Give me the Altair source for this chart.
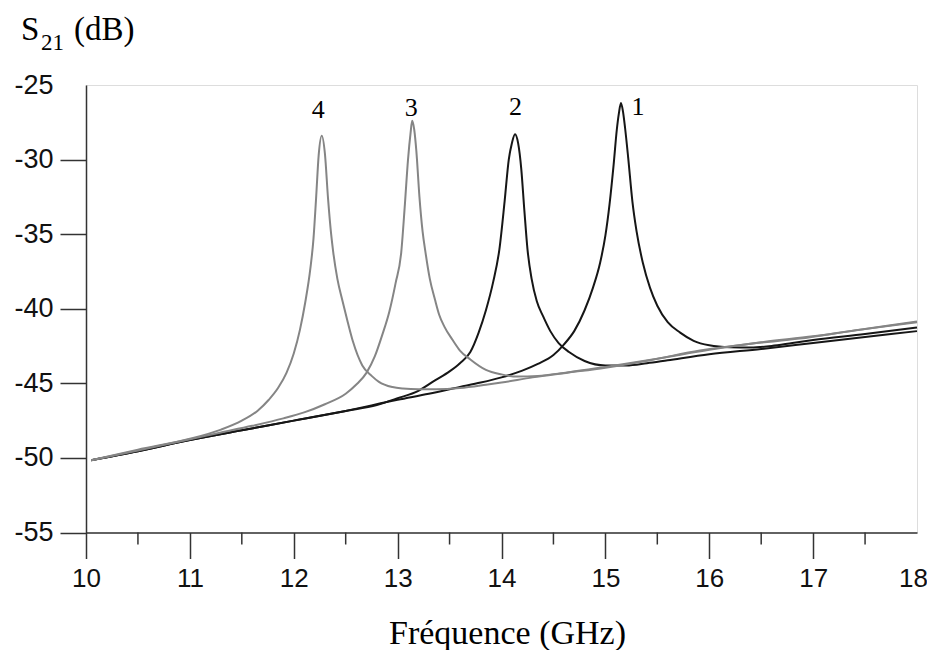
import altair as alt
import pandas as pd

# ---- data ----
freq_1 = [10.05, 10.5, 11.0, 11.5, 12.0, 12.5, 13.0, 13.3, 13.6, 13.8, 14.0, 14.2, 14.35, 14.5, 14.6, 14.7, 14.8,
          14.88, 14.95, 15.0, 15.04, 15.08, 15.11, 15.13, 15.15, 15.17, 15.19, 15.22, 15.26, 15.3, 15.36, 15.43,
          15.5, 15.6, 15.72, 15.85, 16.0, 16.2, 16.4, 16.6, 16.8, 17.0, 17.5, 18.0]
s21_1 = [-50.15, -49.55, -48.8, -48.15, -47.5, -46.85, -46.1, -45.7, -45.25, -44.95, -44.6, -44.15, -43.7, -43.1,
         -42.4, -41.5, -40.1, -38.6, -36.9, -35.1, -33.0, -30.3, -28.0, -26.9, -26.2, -26.8, -27.9, -29.9, -32.8,
         -34.8, -36.9, -38.6, -39.8, -40.9, -41.6, -42.15, -42.45, -42.58, -42.6, -42.5, -42.3, -42.1, -41.7, -41.25]

freq_2 = [10.05, 10.5, 11.0, 11.5, 12.0, 12.5, 12.8, 13.0, 13.2, 13.36, 13.5, 13.6, 13.7, 13.78, 13.85, 13.92,
          13.98, 14.03, 14.07, 14.1, 14.13, 14.16, 14.19, 14.22, 14.25, 14.29, 14.34, 14.4, 14.47, 14.55, 14.65,
          14.8, 15.0, 15.2, 15.4, 15.6, 16.0, 16.5, 17.0, 17.5, 18.0]
s21_2 = [-50.15, -49.55, -48.8, -48.15, -47.5, -46.85, -46.45, -46.0, -45.5, -44.8, -44.2, -43.65, -42.9, -41.6,
         -40.1, -38.2, -36.0, -32.8, -30.0, -28.9, -28.3, -28.9, -30.6, -33.4, -36.0, -38.0, -39.5, -40.5, -41.5,
         -42.3, -42.9, -43.5, -43.8, -43.8, -43.65, -43.45, -43.05, -42.7, -42.3, -41.9, -41.5]

freq_3 = [10.05, 10.5, 11.0, 11.3, 11.6, 11.9, 12.1, 12.3, 12.5, 12.6, 12.7, 12.78, 12.85, 12.92, 12.98, 13.035,
          13.07, 13.1, 13.125, 13.14, 13.16, 13.18, 13.21, 13.24, 13.27, 13.31, 13.36, 13.4, 13.45, 13.53, 13.6,
          13.7, 13.85, 14.0, 14.15, 14.35, 14.6, 15.0, 15.5, 16.0, 16.5, 17.0, 17.5, 18.0]
s21_3 = [-50.15, -49.5, -48.75, -48.3, -47.85, -47.35, -46.95, -46.4, -45.7, -45.1, -44.3, -43.2, -41.8, -40.2,
         -38.3, -36.2, -33.0, -30.0, -28.2, -27.4, -28.0, -29.4, -32.5, -34.8, -36.3, -38.0, -39.4, -40.4, -41.2,
         -42.1, -42.8, -43.4, -44.1, -44.4, -44.55, -44.5, -44.3, -43.9, -43.35, -42.75, -42.25, -41.85, -41.35,
         -40.85]

freq_4 = [10.05, 10.5, 11.0, 11.3, 11.5, 11.65, 11.76, 11.85, 11.93, 12.0, 12.06, 12.11, 12.16, 12.19, 12.215,
          12.24, 12.27, 12.3, 12.33, 12.36, 12.38, 12.42, 12.47, 12.52, 12.57, 12.66, 12.75, 12.82, 12.95, 13.05,
          13.2, 13.37, 13.6, 13.85, 14.0, 14.3, 14.62, 15.0, 15.43, 15.91, 16.4, 16.87, 17.4, 18.0]
s21_4 = [-50.15, -49.45, -48.72, -48.1, -47.5, -46.85, -46.1, -45.3, -44.3, -43.0, -41.4, -39.6, -37.3, -35.3,
         -32.6, -29.7, -28.4, -29.6, -32.6, -35.0, -36.2, -38.0, -39.5, -40.9, -42.2, -43.8, -44.5, -44.9, -45.25,
         -45.35, -45.4, -45.4, -45.32, -45.1, -44.95, -44.6, -44.3, -43.95, -43.45, -42.8, -42.35, -42.0, -41.45,
         -40.9]

curve_names = ["1", "2", "3", "4"]
curve_colors = ["#161616", "#161616", "#858585", "#858585"]

label_text = ["1", "2", "3", "4"]
label_freq = [15.315, 14.135, 13.13, 12.235]
label_s21 = [-26.45, -26.45, -26.57, -26.68]

x_ticks = [10, 11, 12, 13, 14, 15, 16, 17, 18]
x_minor = [10.5, 11.5, 12.5, 13.5, 14.5, 15.5, 16.5, 17.5]
y_ticks = [-55, -50, -45, -40, -35, -30, -25]

# ---- tables ----
rows = []
for name, fs, ss in zip(curve_names, [freq_1, freq_2, freq_3, freq_4], [s21_1, s21_2, s21_3, s21_4]):
    for f, s in zip(fs, ss):
        rows.append({"curve": name, "freq": f, "s21": s})
df = pd.DataFrame(rows)
df_labels = pd.DataFrame({"txt": label_text, "freq": label_freq, "s21": label_s21})
df_minor = pd.DataFrame({"freq": x_minor})

W = 831
H = 447.5
AXC = "#333333"

xscale = alt.Scale(domain=[10, 18], nice=False, zero=False)
yscale = alt.Scale(domain=[-55, -25], nice=False, zero=False)

x_axis = alt.Axis(
    values=x_ticks, labelExpr="datum.value + ''", grid=False,
    domainColor=AXC, domainWidth=1.5, tickColor=AXC, tickWidth=1.5, tickSize=26,
    tickOpacity={"condition": {"test": "datum.value == 18", "value": 0}, "value": 1},
    labelOffset={"condition": {"test": "datum.value == 18", "value": -4}, "value": 0},
    labelFont="Liberation Sans", labelFontSize=26, labelColor="#111111", labelPadding=7,
    labelFlush=False, labelOverlap=False,
    title="Fréquence (GHz)", titleFont="Liberation Serif", titleFontSize=34,
    titleFontWeight="normal", titleColor="#000000", titleBaseline="alphabetic",
    titleAlign="center", titleX=421, titleY=110.5,
)
y_axis = alt.Axis(
    values=y_ticks, labelExpr="datum.value + ''", grid=False,
    domainColor=AXC, domainWidth=1.5, tickColor=AXC, tickWidth=1.5, tickSize=26,
    tickOpacity={"condition": {"test": "datum.value == -25", "value": 0}, "value": 1},
    labelFont="Liberation Sans", labelFontSize=27, labelColor="#111111", labelPadding=7,
    labelFlush=False, labelOverlap=False, title=None,
)

lines = alt.Chart(df).mark_line(strokeWidth=2, interpolate="monotone").encode(
    x=alt.X("freq:Q", scale=xscale, axis=x_axis),
    y=alt.Y("s21:Q", scale=yscale, axis=y_axis),
    color=alt.Color("curve:N", scale=alt.Scale(domain=curve_names, range=curve_colors), legend=None),
    detail="curve:N",
    order="freq:Q",
)

labels = alt.Chart(df_labels).mark_text(
    font="Liberation Serif", fontSize=26, color="#000000", align="center", baseline="middle"
).encode(
    x=alt.X("freq:Q", scale=xscale),
    y=alt.Y("s21:Q", scale=yscale),
    text="txt:N",
)

minor = alt.Chart(df_minor).mark_rule(color=AXC, strokeWidth=1.5).encode(
    x=alt.X("freq:Q", scale=xscale),
    y=alt.value(H),
    y2=alt.value(H + 12),
)

t_s = alt.Chart(pd.DataFrame({"t": ["S"]})).mark_text(
    font="Liberation Serif", fontSize=33, align="left", baseline="alphabetic", color="#000000"
).encode(x=alt.value(-65), y=alt.value(-45), text="t:N")
t_sub = alt.Chart(pd.DataFrame({"t": ["21"]})).mark_text(
    font="Liberation Serif", fontSize=23, align="left", baseline="alphabetic", color="#000000"
).encode(x=alt.value(-45), y=alt.value(-35.5), text="t:N")
t_unit = alt.Chart(pd.DataFrame({"t": ["(dB)"]})).mark_text(
    font="Liberation Serif", fontSize=33, align="left", baseline="alphabetic", color="#000000"
).encode(x=alt.value(-12), y=alt.value(-45), text="t:N")

chart = alt.layer(lines, labels, minor, t_s, t_sub, t_unit).properties(
    width=W, height=H,
    autosize=alt.AutoSizeParams(type="none"),
    padding={"left": 78, "top": 77, "right": 10, "bottom": 118},
).configure_view(stroke="#222222", strokeWidth=1.5).configure(background="white")

chart.save("out.html", embed_options={"renderer": "svg", "actions": False})
